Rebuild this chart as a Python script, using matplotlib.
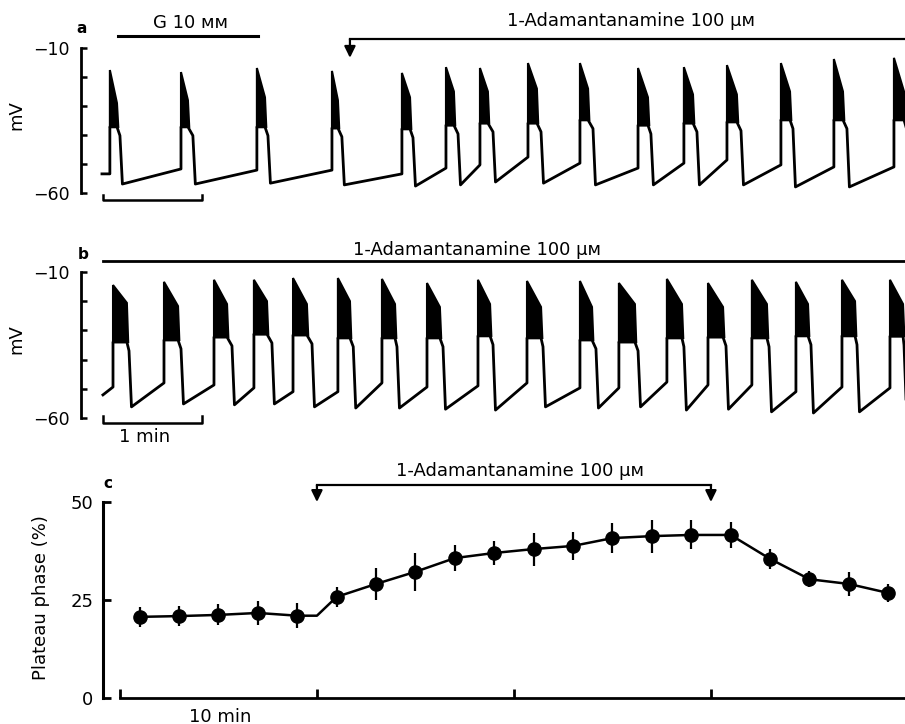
import matplotlib
matplotlib.use('Agg')
import matplotlib.pyplot as plt

plt.rcParams['font.family'] = ['DejaVu Sans']

# ---- panel a : glucose 10 mM, then 1-adamantanamine (time in s, potential in mV)
a_start = (-0.6, -53.4)
a_onset = [4.2, 47.3, 93.3, 138.8, 181.2, 207.9, 228.5, 257.6, 289.1, 324.3, 352.1, 378.2, 410.9, 443.0, 479.4]
a_spk_end = [8.5, 51.5, 98.2, 142.4, 186.1, 212.7, 233.3, 263.0, 294.0, 330.3, 357.6, 384.2, 416.4, 448.5, 485.5]
a_fall = [10.3, 54.5, 100.0, 144.8, 187.9, 215.2, 236.4, 265.5, 297.0, 332.1, 360.0, 386.7, 418.2, 450.9, 487.0]
a_peak = [-17.6, -18.3, -16.9, -17.9, -18.6, -16.6, -16.9, -15.2, -15.2, -16.9, -16.6, -15.9, -15.2, -13.8, -13.4]
a_peak_end = [-29, -28, -27, -28, -27, -25, -25, -24, -24, -27, -26, -26, -25, -25, -25]
a_plateau = [-37.2, -37.2, -37.2, -37.6, -37.9, -36.6, -35.9, -35.9, -34.8, -36.6, -35.9, -35.5, -34.8, -34.8, -34.8]
a_trough = [-56.9, -56.9, -56.6, -57.2, -57.6, -57.2, -56.2, -56.6, -57.2, -57.2, -57.2, -57.2, -57.9, -57.9, -57.0]
a_pre = [-53.4, -51.7, -52.1, -52.1, -53.4, -51.4, -50.3, -47.6, -49.7, -51.4, -49.7, -48.6, -50.3, -51.0, -51.0]
a_drug_on = 149.7

# ---- panel b : 1-adamantanamine steady state
b_start = (0.0, -52.1)
b_onset = [6.1, 37.0, 67.3, 91.5, 115.2, 142.4, 169.1, 196.4, 227.3, 257.0, 289.1, 312.7, 341.8, 366.7, 393.3, 420.0, 447.9, 477.0]
b_spk_end = [14.5, 45.5, 75.2, 99.4, 123.6, 149.7, 177.0, 204.2, 234.6, 265.5, 296.4, 322.4, 350.9, 375.8, 402.4, 427.3, 455.8, 484.9]
b_fall = [15.8, 47.3, 78.2, 102.4, 126.7, 151.7, 178.2, 206.1, 236.4, 266.7, 298.8, 324.3, 352.1, 377.6, 403.7, 429.1, 457.0, 485.5]
b_peak = [-14.5, -13.4, -12.7, -12.7, -12.1, -12.1, -12.4, -13.8, -12.7, -13.1, -13.1, -13.8, -12.4, -13.8, -12.7, -13.4, -12.7, -12.7]
b_peak_end = [-20.6, -21.7, -21, -20, -21, -20, -21, -22, -21, -22, -22, -21, -21, -22, -21, -21, -20, -21]
b_plateau = [-34.0, -33.3, -32.3, -31.3, -31.6, -32.6, -32.6, -32.6, -31.9, -32.6, -33.3, -34.0, -32.6, -32.3, -32.6, -31.9, -31.9, -32.0]
b_trough = [-56.2, -55.2, -55.5, -55.2, -56.2, -56.6, -56.6, -57.0, -57.3, -56.2, -56.6, -56.2, -57.3, -57.0, -57.9, -58.3, -57.9, -58.0]
b_pre = [-49.4, -48.0, -48.7, -49.7, -51.0, -51.0, -48.0, -49.4, -49.0, -48.0, -49.7, -49.7, -47.7, -48.7, -48.7, -51.0, -49.4, -49.7]

# ---- panel c : plateau phase (%) vs time (min)
c_time = [1, 3, 5, 7, 9, 11, 13, 15, 17, 19, 21, 23, 25, 27, 29, 31, 33, 35, 37, 39]
c_plateau = [20.7, 20.9, 21.2, 21.7, 21.0, 25.8, 29.1, 32.2, 35.7, 37.0, 38.0, 38.8, 40.8, 41.3, 41.6, 41.6, 35.5, 30.3, 29.1, 26.8]
c_sem = [2.6, 2.6, 2.7, 3.1, 3.2, 2.6, 4.0, 4.8, 3.4, 3.0, 4.2, 3.6, 3.8, 4.2, 3.7, 3.4, 2.5, 2.0, 3.0, 2.2]
c_junction = (10, 21.0)
c_drug = (10, 30)

drug_txt = '1-Adamantanamine 100 \u03bc\u043c'
FS = 13
LW = 2.0


def draw_trace(ax, start, onset, spk_end, fall, peak, peak_end, plateau, trough, pre):
    xs, ys = [start[0]], [start[1]]
    for i in range(len(onset)):
        xs += [onset[i], onset[i], spk_end[i], fall[i], fall[i] + 1.5]
        ys += [pre[i], plateau[i], plateau[i], plateau[i] - 3, trough[i]]
        # dense spikes of the burst drawn as a filled envelope
        ax.fill([onset[i], onset[i], spk_end[i], spk_end[i] + 0.8],
                [plateau[i], peak[i], peak_end[i], plateau[i]], color='k', lw=1.5)
    ax.plot(xs, ys, color='k', lw=LW, solid_joinstyle='round')


def trace_axes(rect):
    ax = fig.add_axes(rect)
    ax.set_xlim(-13.3, 486.1)
    ax.set_ylim(-60, -10)
    for s in ['top', 'right', 'bottom']:
        ax.spines[s].set_visible(False)
    ax.spines['left'].set_linewidth(2.0)
    ax.set_xticks([])
    ax.set_yticks([-10, -20, -30, -40, -50, -60])
    ax.set_yticklabels(['\u221210', '', '', '', '', '\u221260'])
    ax.tick_params(axis='y', direction='in', length=4.5, width=1.8, pad=8, labelsize=12.5)
    ax.set_ylabel('mV', fontsize=FS)
    ax.yaxis.set_label_coords(-0.067, 0.54)
    return ax


arrow = dict(arrowstyle='-|>,head_length=0.45,head_width=0.22', mutation_scale=15,
             color='k', lw=1.6, shrinkA=0, shrinkB=0)

fig = plt.figure(figsize=(9.05, 7.24), dpi=100)

# panel a
ax1 = trace_axes([0.0895, 0.7334, 0.9105, 0.2003])
draw_trace(ax1, a_start, a_onset, a_spk_end, a_fall, a_peak, a_peak_end, a_plateau, a_trough, a_pre)
ax1.plot([9.1, 93.9], [-5.7, -5.7], color='k', lw=2.2, clip_on=False)
ax1.text(53.3, -1.5, 'G 10 \u043c\u043c', ha='center', va='center', fontsize=FS)
ax1.plot([a_drug_on, 486.1], [-6.9, -6.9], color='k', lw=1.6, clip_on=False)
ax1.annotate('', xy=(a_drug_on, -13.4), xytext=(a_drug_on, -6.9), arrowprops=arrow, annotation_clip=False)
ax1.text(320, -0.7, drug_txt, ha='center', va='center', fontsize=FS)
ax1.plot([0, 0, 60, 60], [-60.7, -62.4, -62.4, -60.7], color='k', lw=1.8, clip_on=False)
ax1.text(-12.7, -3.4, 'a', ha='center', va='center', fontsize=11, fontweight='bold')

# panel b
ax2 = trace_axes([0.0895, 0.4227, 0.9105, 0.2017])
draw_trace(ax2, b_start, b_onset, b_spk_end, b_fall, b_peak, b_peak_end, b_plateau, b_trough, b_pre)
ax2.plot([0, 486.1], [-6.2, -6.2], color='k', lw=2.0, clip_on=False)
ax2.text(227, -2.5, drug_txt, ha='center', va='center', fontsize=FS)
ax2.plot([0, 0, 60, 60], [-59.3, -61.7, -61.7, -59.3], color='k', lw=1.8, clip_on=False)
ax2.text(25.5, -66.5, '1 min', ha='center', va='center', fontsize=FS)
ax2.text(-12.1, -4.2, 'b', ha='center', va='center', fontsize=11, fontweight='bold')

# panel c
ax3 = fig.add_axes([0.1138, 0.0359, 0.8862, 0.2707])
ax3.set_xlim(-0.86, 39.85)
ax3.set_ylim(0, 50)
for s in ['top', 'right']:
    ax3.spines[s].set_visible(False)
ax3.spines['left'].set_bounds(0, 50)
ax3.spines['bottom'].set_bounds(0, 39.85)
ax3.spines['left'].set_linewidth(2.2)
ax3.spines['bottom'].set_linewidth(2.0)
ax3.set_yticks([0, 25, 50])
ax3.set_yticklabels(['0', '25', '50'])
ax3.set_xticks([0, 10, 20, 30])
ax3.set_xticklabels([])
ax3.tick_params(axis='y', direction='in', length=6, width=2.0, pad=7, labelsize=FS)
ax3.tick_params(axis='x', direction='in', length=6.5, width=2.0)
ax3.set_ylabel('Plateau phase (%)', fontsize=FS)
ax3.yaxis.set_label_coords(-0.066, 0.515)

line_t = c_time[:5] + [c_junction[0]] + c_time[5:]
line_v = c_plateau[:5] + [c_junction[1]] + c_plateau[5:]
ax3.plot(line_t, line_v, color='k', lw=1.8)
ax3.errorbar(c_time, c_plateau, yerr=c_sem, fmt='o', ms=9.5, color='k', elinewidth=1.6, capsize=0)

ax3.plot([c_drug[0], c_drug[1]], [54.3, 54.3], color='k', lw=1.6, clip_on=False)
for t in c_drug:
    ax3.annotate('', xy=(t, 50.0), xytext=(t, 54.3), arrowprops=arrow, annotation_clip=False)
ax3.text(20.3, 57.9, drug_txt, ha='center', va='center', fontsize=FS)
ax3.text(5.1, -4.8, '10 min', ha='center', va='center', fontsize=FS)
ax3.text(-0.6, 54.6, 'c', ha='center', va='center', fontsize=11, fontweight='bold')

fig.savefig('out.png', dpi=100)
